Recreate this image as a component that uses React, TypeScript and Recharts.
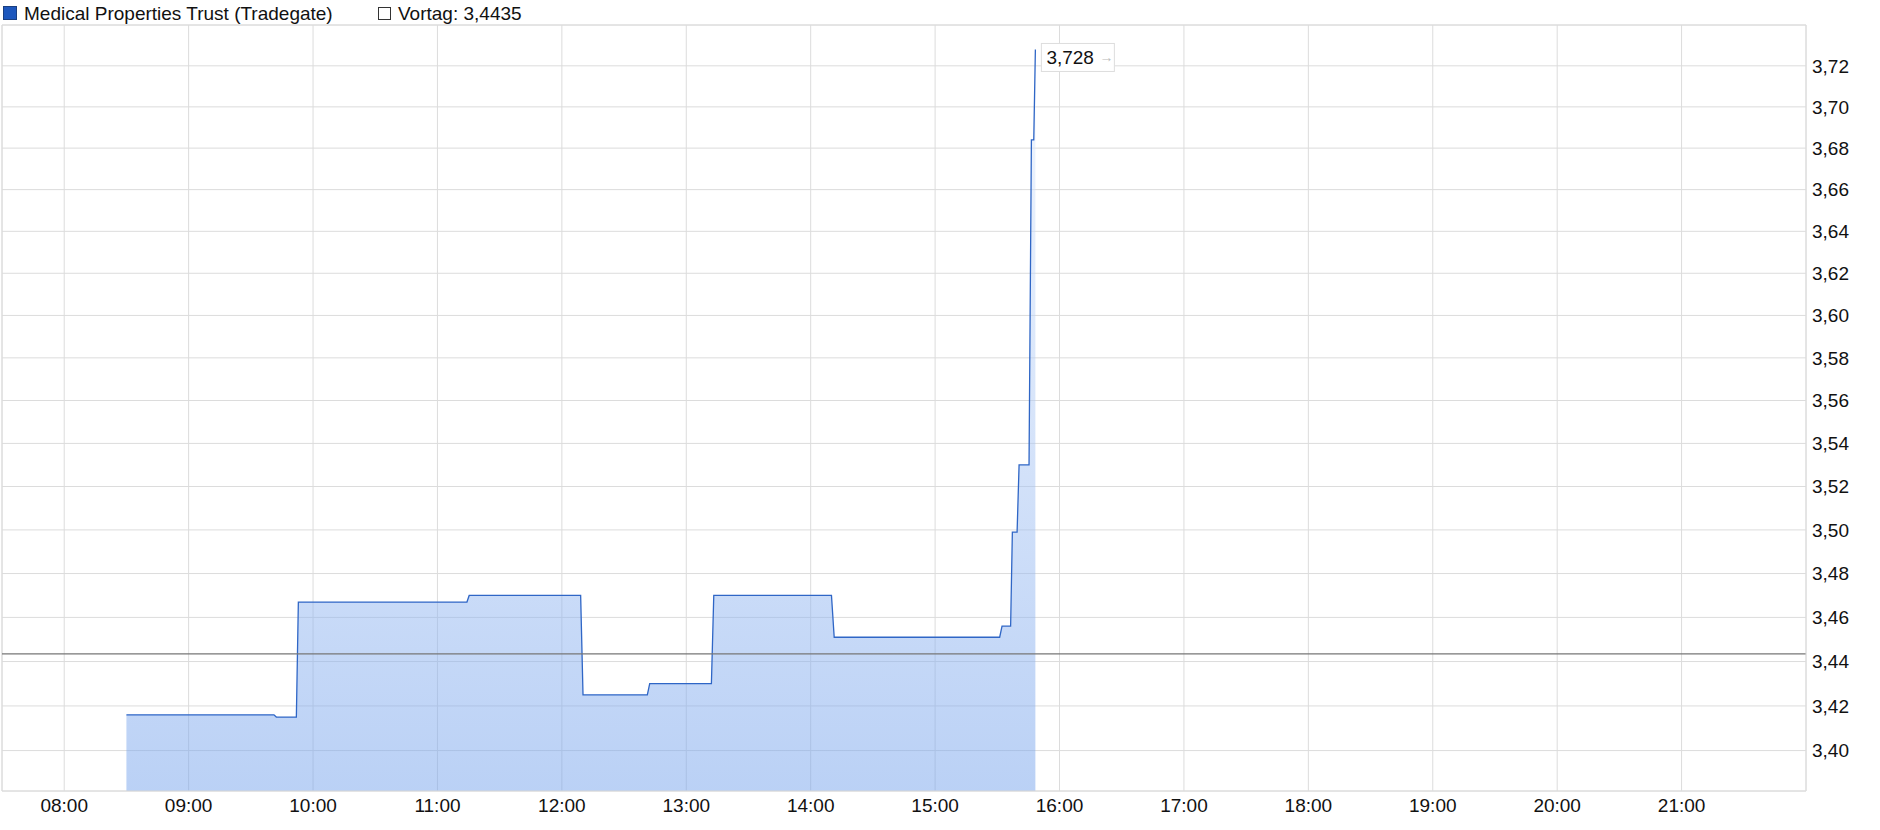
import React from 'react'
import {
  ComposedChart,
  Area,
  XAxis,
  YAxis,
  CartesianGrid,
  ReferenceLine,
  ReferenceDot,
} from 'recharts'

// intraday quotes (hours as decimals) and prices in EUR
const times = [
  8.5, 9.686, 9.705, 9.866, 9.882, 11.237, 11.255, 12.151, 12.17, 12.687, 12.706,
  13.202, 13.221, 14.167, 14.189, 15.519, 15.538, 15.607, 15.621, 15.659, 15.675,
  15.755, 15.774, 15.793, 15.806,
]
const prices = [
  3.416, 3.416, 3.415, 3.415, 3.467, 3.467, 3.47, 3.47, 3.425, 3.425, 3.43,
  3.43, 3.47, 3.47, 3.451, 3.451, 3.456, 3.456, 3.499, 3.499, 3.53,
  3.53, 3.684, 3.684, 3.728,
]
const hourTicks = [8, 9, 10, 11, 12, 13, 14, 15, 16, 17, 18, 19, 20, 21]
const priceTicks = [3.4, 3.42, 3.44, 3.46, 3.48, 3.5, 3.52, 3.54, 3.56, 3.58, 3.6, 3.62, 3.64, 3.66, 3.68, 3.7, 3.72]
const xDomain = [7.5, 22]
const yDomain = [3.382, 3.74]
const previousClose = 3.4435
const seriesName = 'Medical Properties Trust (Tradegate)'

const data = times.map((t, i) => ({ t, price: prices[i] }))
const last = data[data.length - 1]

const FONT = '"Liberation Sans", Arial, sans-serif'
const GRID = '#dcdcdc'

const fmtPrice = (v: number, digits = 2) => v.toFixed(digits).replace('.', ',')
const fmtHour = (h: number) => `${String(h).padStart(2, '0')}:00`

// label box next to the latest quote
function LastLabel(props: any) {
  const { viewBox } = props
  const cx = viewBox.x + (viewBox.width || 0) / 2
  const cy = viewBox.y + (viewBox.height || 0) / 2
  return (
    <g>
      <rect x={cx + 6} y={cy - 6} width={73} height={28} fill="#fff" stroke="#dddddd" />
      <text x={cx + 11} y={cy + 15} fontSize={19} fontFamily={FONT} fill="#111">
        {fmtPrice(last.price, 3)}
      </text>
      <text x={cx + 64} y={cy + 13} fontSize={14} fontFamily={FONT} fill="#bbb">
        →
      </text>
    </g>
  )
}

export default function App() {
  return (
    <div style={{ position: 'relative', width: 1880, height: 830, fontFamily: FONT }}>
      <style>{`body{margin:0}`}</style>
      {/* legend */}
      <div style={{ position: 'absolute', left: 0, top: 0, height: 24, fontSize: 19, color: '#111' }}>
        <span style={{ position: 'absolute', left: 3, top: 6, width: 12, height: 12, background: '#1d57bd', border: '1px solid #1a3f80' }} />
        <span style={{ position: 'absolute', left: 24, top: 4, lineHeight: '19px', whiteSpace: 'nowrap' }}>{seriesName}</span>
        <span style={{ position: 'absolute', left: 378, top: 7, width: 11, height: 11, background: '#fff', border: '1px solid #333' }} />
        <span style={{ position: 'absolute', left: 398, top: 4, lineHeight: '19px', whiteSpace: 'nowrap' }}>
          Vortag: {fmtPrice(previousClose, 4)}
        </span>
      </div>
      <ComposedChart
        width={1880}
        height={830}
        data={data}
        margin={{ top: 25, right: 0, left: 2, bottom: 0 }}
      >
        <defs>
          <linearGradient id="fillGrad" x1="0" y1="0" x2="0" y2="1">
            <stop offset="0%" stopColor="#e6effd" />
            <stop offset="100%" stopColor="#76a3ec" />
          </linearGradient>
        </defs>
        <CartesianGrid stroke={GRID} strokeWidth={1} />
        <XAxis
          dataKey="t"
          type="number"
          domain={xDomain}
          ticks={hourTicks}
          tickFormatter={fmtHour}
          height={39}
          tickLine={false}
          axisLine={{ stroke: GRID }}
          tick={{ fill: '#111', fontSize: 19, fontFamily: FONT }}
          allowDataOverflow
        />
        {/* price axis is logarithmic */}
        <YAxis
          orientation="right"
          type="number"
          scale="log"
          domain={yDomain}
          ticks={priceTicks}
          tickFormatter={(v) => fmtPrice(v)}
          width={74}
          tickLine={false}
          tickSize={4}
          tickMargin={2}
          axisLine={{ stroke: GRID }}
          tick={{ fill: '#111', fontSize: 19, fontFamily: FONT, textAnchor: 'start' }}
          allowDataOverflow
        />
        {/* plot frame: top and left edges */}
        <ReferenceLine y={yDomain[1]} stroke={GRID} />
        <ReferenceLine x={xDomain[0]} stroke={GRID} />
        <Area
          type="linear"
          dataKey="price"
          stroke="#2f66c6"
          strokeWidth={1.3}
          fill="url(#fillGrad)"
          fillOpacity={0.5}
          baseValue={yDomain[0]}
          dot={false}
          activeDot={false}
          isAnimationActive={false}
        />
        {/* previous day close */}
        <ReferenceLine y={previousClose} stroke="#777" strokeWidth={1.3} />
        <ReferenceDot x={last.t} y={last.price} r={0} stroke="none" label={<LastLabel />} />
      </ComposedChart>
    </div>
  )
}
